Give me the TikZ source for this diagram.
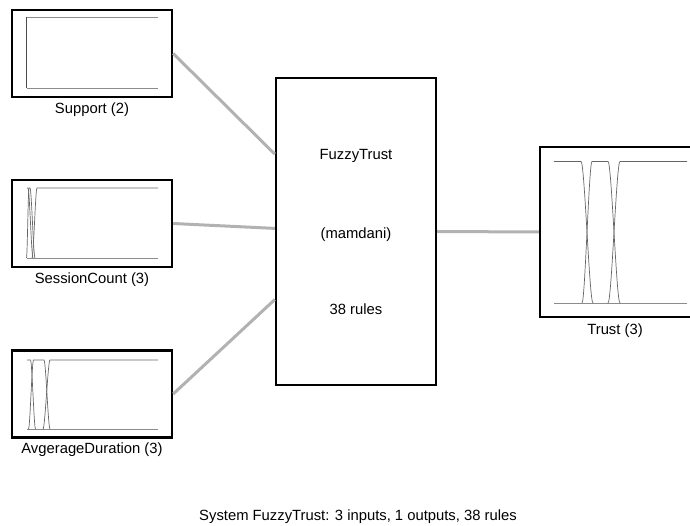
\documentclass[tikz,border=0pt]{standalone}
\usepackage{fontspec}
\setmainfont{Liberation Sans}
\usetikzlibrary{calc}
\tikzset{
	fisbox/.style={draw, line width=2.4pt, inner sep=0pt, minimum width=160pt, minimum height=87pt},
	link/.style={line width=3pt, black!30},
	mf/.style={black!60, line width=0.7pt},
	axis/.style={black!45, line width=0.9pt},
	lbl/.style={font=\fontsize{14.8}{17}\selectfont, inner sep=0pt},
}
\begin{document}
\begin{tikzpicture}[x=1pt,y=-1pt]
	\clip (0,0) rectangle (690,526);

	% input blocks
	\node[fisbox] (sup) at (92,53.5) {};
	\node[lbl] (suplbl) at (92,110) {Support (2)};
	\node[fisbox] (ses) at (92,223.5) {};
	\node[lbl] (seslbl) at (92,280) {SessionCount (3)};
	\node[fisbox] (avg) at (92,394) {};
	\node[lbl] (avglbl) at (92,450) {AvgerageDuration (3)};

	% system block
	\node[fisbox, minimum height=307pt] (sys) at (356,231.5) {};
	\node[lbl] (sysname) at (356,156) {FuzzyTrust};
	\node[lbl] (systype) at (356,235) {(mamdani)};
	\node[lbl] (sysrules) at (356,309) {38 rules};

	% output block
	\node[fisbox, minimum width=151pt, minimum height=170pt] (trust) at (615.5,232) {};
	\node[lbl] (trustlbl) at (615,331) {Trust (3)};

	\node[lbl] (caption) at (358,517) {System FuzzyTrust: 3 inputs, 1 outputs, 38 rules};

	% connectors
	\draw[link] (sup.east) -- ($(sys.north west)!0.25!(sys.south west)$);
	\draw[link] (ses.east) -- ($(sys.north west)!0.49!(sys.south west)$);
	\draw[link] (avg.east) -- ($(sys.north west)!0.72!(sys.south west)$);
	\draw[link] (sys.east) -- (trust.west);

	% Support
	\draw[axis] (27,17) -- (158,17);
	\draw[axis] (27,88) -- (158,88);
	\draw[black!70, line width=0.8pt] (26.5,17) -- (26.5,88);

	% SessionCount
	\draw[axis] (27,258) -- (158,258);
	\draw[mf] (27,188) -- (28,188) .. controls (29.5,188) and (31.5,258) .. (33,258);
	\draw[mf] (26.5,258) .. controls (27.3,258) and (28.2,188) .. (29,188) -- (30,188)
		.. controls (31.5,188) and (33.5,258) .. (35,258);
	\draw[mf] (32,258) .. controls (33.5,258) and (35.5,188) .. (37,188) -- (158,188);

	% AvgerageDuration
	\draw[axis] (27,429) -- (158,429);
	\draw[mf] (27,360) -- (30.5,360) .. controls (32,360) and (34,429) .. (35.5,429);
	\draw[mf] (28.5,429) .. controls (30,429) and (32,360) .. (33.5,360) -- (44,360)
		.. controls (45.8,360) and (48.2,429) .. (50,429);
	\draw[mf] (43,429) .. controls (45,429) and (48,360) .. (50,360) -- (158,360);

	% Trust
	\draw[axis] (554,303) -- (687,303);
	\draw[mf] (554,161.5) -- (581,161.5) .. controls (584.6,161.5) and (589.4,303) .. (593,303);
	\draw[mf] (582,303) .. controls (585,303) and (589,161.5) .. (592,161.5) -- (608,161.5)
		.. controls (611.6,161.5) and (616.4,303) .. (620,303);
	\draw[mf] (608,303) .. controls (611.6,303) and (616.4,161.5) .. (620,161.5) -- (687,161.5);
\end{tikzpicture}
\end{document}
